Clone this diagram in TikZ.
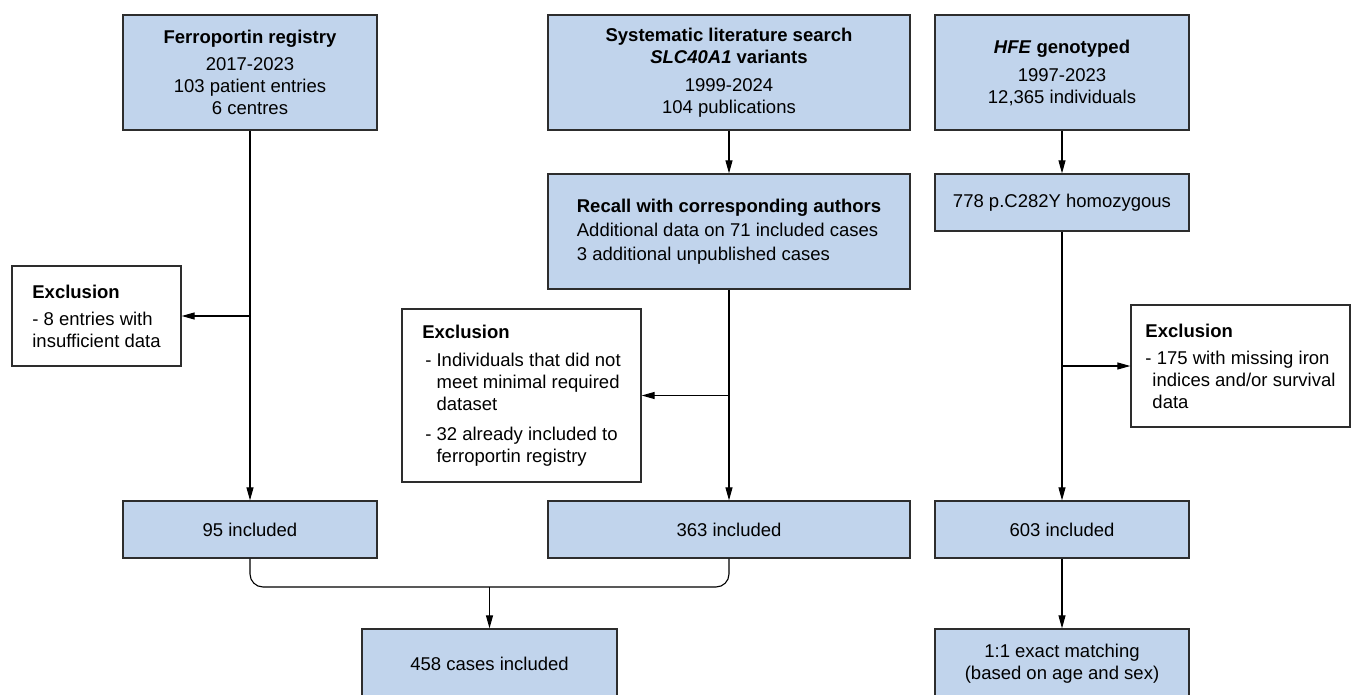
\documentclass[tikz,border=0pt]{standalone}
\usepackage{fontspec}
\setmainfont{Liberation Sans}
\usetikzlibrary{arrows.meta,positioning}
\definecolor{colorbox}{RGB}{193,212,236}
\definecolor{colorline}{RGB}{45,45,45}
\tikzstyle{every node}=[font=\fontsize{18.5}{22}\selectfont]
\tikzstyle{record}=[rectangle, draw=colorline, fill=colorbox, line width=1.3pt, align=center, inner sep=2pt]
\tikzstyle{exclusion}=[rectangle, draw=colorline, fill=white, line width=1.3pt, align=left, inner sep=2pt]
\newcommand{\gene}[1]{\textit{#1}}
\newcommand{\itemgap}{\hphantom{-~}}

\begin{document}
\begin{tikzpicture}[x=1pt, y=-1pt, ->, >={Triangle[length=13pt, width=7pt]}, line width=1.1pt]
		\useasboundingbox (0, 0) rectangle (1352, 695);
		
		% sources
		\node[record, minimum width=254pt, minimum height=115pt] at (250, 72.5) (ferro) {\textbf{Ferroportin registry}\\[5pt] 2017-2023\\ 103 patient entries\\ 6 centres};
		
		\node[record, minimum width=362pt, minimum height=115pt] at (729, 72.5) (search) {\textbf{Systematic literature search}\\ \textbf{\gene{SLC40A1} variants}\\[6pt] 1999-2024\\ 104 publications};
		
		\node[record, minimum width=254pt, minimum height=115pt] at (1062, 72.5) (hfe) {\textbf{\gene{HFE} genotyped}\\[6pt] 1997-2023\\ 12,365 individuals};
		
		\node[record, align=left, minimum width=362pt, minimum height=115pt] at (729, 231.5) (recall) {\textbf{Recall with corresponding authors}\\[2pt] Additional data on 71 included cases\\[2pt] 3 additional unpublished cases};
		
		\node[record, minimum width=254pt, minimum height=57pt] at (1062, 202.5) (homoz) {778 p.C282Y homozygous};
		
		% exclusions
		\node[exclusion, minimum width=169pt, minimum height=100pt] at (96.5, 316) (exclA) {\textbf{Exclusion}\\[5pt] - 8 entries with\\ insufficient data};
		
		\node[exclusion, minimum width=239pt, minimum height=173pt] at (521.5, 395.5) (exclB) {\textbf{Exclusion}\\[6pt] \hspace*{3pt}- Individuals that did not\\ \hspace*{3pt}\itemgap meet minimal required\\ \hspace*{3pt}\itemgap dataset\\[8pt] \hspace*{3pt}- 32 already included to\\ \hspace*{3pt}\itemgap ferroportin registry};
		
		\node[exclusion, minimum width=219pt, minimum height=122pt] at (1240.5, 366) (exclC) {\textbf{Exclusion}\\[5pt] - 175 with missing iron\\ \hspace*{7pt}indices and/or survival\\ \hspace*{7pt}data};
		
		% included
		\node[record, minimum width=254pt, minimum height=57pt] at (250, 529.5) (inclA) {95 included};
		\node[record, minimum width=362pt, minimum height=57pt] at (729, 529.5) (inclB) {363 included};
		\node[record, minimum width=254pt, minimum height=57pt] at (1062, 529.5) (inclC) {603 included};
		
		\node[record, minimum width=255pt, minimum height=70pt] at (489.5, 664) (cases) {458 cases included};
		\node[record, minimum width=254pt, minimum height=70pt] at (1062, 664) (matching) {1:1 exact matching\\ (based on age and sex)};
		
		\coordinate (join) at (489.5, 587);
		
		\path (ferro) edge (inclA);
		\path (ferro.south |- exclA.east) edge (exclA);
		\path (search) edge (recall);
		\path (recall) edge (inclB);
		\path (recall.south |- exclB.east) edge (exclB);
		\path (hfe) edge (homoz);
		\path (homoz) edge (inclC);
		\path (homoz.south |- exclC.west) edge (exclC);
		\path (inclC) edge (matching);
		\draw[-, rounded corners=13pt] (inclA.south) |- (join) -| (inclB.south);
		\path (join) edge (cases);
		
		\end{tikzpicture}
\end{document}
